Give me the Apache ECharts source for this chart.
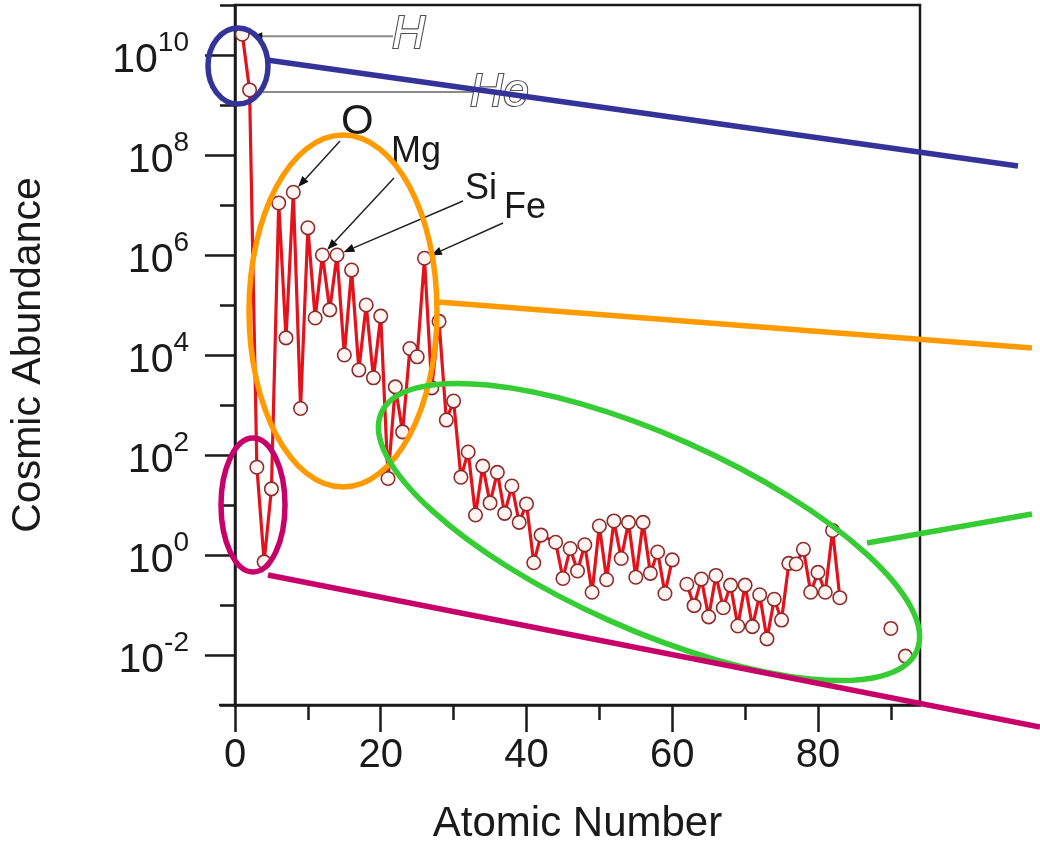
<!DOCTYPE html>
<html>
<head>
<meta charset="utf-8">
<title>Cosmic Abundance of the Elements</title>
<script src="https://cdn.jsdelivr.net/npm/echarts@6/dist/echarts.min.js"></script>
<style>
  html, body { margin: 0; padding: 0; background: #ffffff; }
  #chart { width: 1040px; height: 858px; }
</style>
</head>
<body>
<div id="chart"></div>
<script>
// Atomic numbers of the plotted elements (null abundance = gap in the curve)
const atomicNumber = [
  1, 2, 3, 4, 5, 6, 7, 8, 9, 10,
  11, 12, 13, 14, 15, 16, 17, 18, 19, 20,
  21, 22, 23, 24, 25, 26, 27, 28, 29, 30,
  31, 32, 33, 34, 35, 36, 37, 38, 39, 40,
  41, 42, 44, 45, 46, 47, 48, 49, 50,
  51, 52, 53, 54, 55, 56, 57, 58, 59, 60,
  61, 62, 63, 64, 65, 66, 67, 68, 69, 70,
  71, 72, 73, 74, 75, 76, 77, 78, 79, 80,
  81, 82, 83, 84, 90, 91, 92
];

// Abundance relative to Si = 10^6 atoms
const abundance = [
  2.6e10, 2.0e9, 57, 0.73, 21, 1.1e7, 2.2e4, 1.8e7, 850, 3.5e6,
  5.5e4, 1.0e6, 8.0e4, 1.0e6, 1.0e4, 5.0e5, 5.0e3, 1.0e5, 3.5e3, 6.0e4,
  34, 2.3e3, 290, 1.35e4, 9.2e3, 8.6e5, 2.2e3, 4.7e4, 500, 1.2e3,
  36, 115, 6.3, 60, 11, 45, 6.8, 24, 4.5, 10.5,
  0.7, 2.5, 1.8, 0.34, 1.35, 0.48, 1.6, 0.18, 3.8,
  0.32, 4.8, 0.85, 4.5, 0.36, 4.5, 0.43, 1.15, 0.17, 0.8,
  null, 0.26, 0.097, 0.33, 0.058, 0.39, 0.088, 0.25, 0.038, 0.25,
  0.037, 0.16, 0.021, 0.13, 0.05, 0.68, 0.66, 1.3, 0.18, 0.45,
  0.18, 3.1, 0.14, null, 0.034, null, 0.0095
];

// Axis ticks
const xMajorTicks = [0, 20, 40, 60, 80];
const xMinorTicks = [10, 30, 50, 70, 90];
const yMajorTicks = [1e-2, 1e0, 1e2, 1e4, 1e6, 1e8, 1e10];
const yMinorTicks = [1e-3, 1e-1, 1e1, 1e3, 1e5, 1e7, 1e9, 1e11];

// Labelled elements: symbol and atomic number
const pointerSymbols = ['O', 'Mg', 'Si', 'Fe'];
const pointerZ = [8, 12, 14, 26];

const FONT = '"Liberation Sans", Arial, Helvetica, sans-serif';
const INK = '#1a1a1a';

const chart = echarts.init(document.getElementById('chart'), null, { renderer: 'canvas' });

const seriesData = atomicNumber.map((z, i) => [z, abundance[i] == null ? '-' : abundance[i]]);

function supLabel(v) {
  const e = Math.round(Math.log10(v));
  return '{b|10}{s|' + e + '}';
}

const tickStyle = { color: INK, width: 2.5 };

chart.setOption({
  animation: false,
  backgroundColor: '#ffffff',
  grid: {
    left: 229, right: 120, top: 5, bottom: 153,
    show: true, borderColor: INK, borderWidth: 2.5, backgroundColor: 'transparent'
  },
  xAxis: [{
    type: 'value', min: 0, max: 94,
    axisLine: { show: true, onZero: false, lineStyle: tickStyle },
    axisTick: { show: true, inside: false, length: 27, customValues: xMajorTicks, lineStyle: tickStyle },
    axisLabel: {
      customValues: xMajorTicks, margin: 31, color: INK,
      fontFamily: FONT, fontSize: 40
    },
    splitLine: { show: false },
    name: 'Atomic Number', nameLocation: 'middle', nameGap: 98,
    nameTextStyle: { fontFamily: FONT, fontSize: 42, color: INK }
  }, {
    type: 'value', min: 0, max: 94, position: 'bottom',
    axisLine: { show: false, onZero: false },
    axisTick: { show: true, inside: false, length: 15, customValues: xMinorTicks, lineStyle: tickStyle },
    axisLabel: { show: false },
    splitLine: { show: false }
  }],
  yAxis: [{
    type: 'log', logBase: 10, min: 1e-3, max: 1e11,
    axisLine: { show: true, onZero: false, lineStyle: tickStyle },
    axisTick: { show: true, inside: false, length: 30, customValues: yMajorTicks, lineStyle: tickStyle },
    axisLabel: {
      customValues: yMajorTicks, margin: 46, color: INK,
      formatter: supLabel,
      rich: {
        b: { fontFamily: FONT, fontSize: 41, color: INK, lineHeight: 52, verticalAlign: 'bottom' },
        s: { fontFamily: FONT, fontSize: 28, color: INK, lineHeight: 28, verticalAlign: 'top' }
      }
    },
    splitLine: { show: false },
    name: 'Cosmic Abundance', nameLocation: 'middle', nameGap: 186, nameRotate: 90,
    nameTextStyle: { fontFamily: FONT, fontSize: 41, color: INK }
  }, {
    type: 'log', logBase: 10, min: 1e-3, max: 1e11, position: 'left',
    axisLine: { show: false, onZero: false },
    axisTick: { show: true, inside: false, length: 15, customValues: yMinorTicks, lineStyle: tickStyle },
    axisLabel: { show: false },
    splitLine: { show: false }
  }],
  series: [{
    type: 'line',
    xAxisIndex: 0, yAxisIndex: 0,
    data: seriesData,
    connectNulls: false,
    lineStyle: { color: '#e3121b', width: 3.2 },
    symbol: 'circle', symbolSize: 13.5, showSymbol: true, showAllSymbol: true,
    itemStyle: { color: '#fff4f2', borderColor: '#8e2b2b', borderWidth: 1.6 },
    z: 3
  }]
});

// ---- callouts and highlight overlay ----
function toPx(z, v) {
  return chart.convertToPixel({ xAxisIndex: 0, yAxisIndex: 0 }, [z, v]);
}
function valueAt(z) {
  return abundance[atomicNumber.indexOf(z)];
}

function arrow(from, to, color, width, head, stopShort) {
  const dx = to[0] - from[0], dy = to[1] - from[1];
  const len = Math.sqrt(dx * dx + dy * dy);
  const ux = dx / len, uy = dy / len;
  const tip = [to[0] - ux * stopShort, to[1] - uy * stopShort];
  const base = [tip[0] - ux * head, tip[1] - uy * head];
  const nx = -uy * head * 0.38, ny = ux * head * 0.38;
  return [
    { type: 'line', z: 20, shape: { x1: from[0], y1: from[1], x2: base[0], y2: base[1] },
      style: { stroke: color, lineWidth: width } },
    { type: 'polygon', z: 20, shape: { points: [tip, [base[0] + nx, base[1] + ny], [base[0] - nx, base[1] - ny]] },
      style: { fill: '#111' } }
  ];
}

function label(text, x, y, size, extra) {
  return {
    type: 'text', z: 21,
    style: Object.assign({
      text: text, x: x, y: y,
      fontFamily: FONT, fontSize: size, fill: INK,
      textAlign: 'left', textVerticalAlign: 'bottom', align: 'left', verticalAlign: 'bottom'
    }, extra || {})
  };
}

const g = [];

// Short run of the x axis line past the left edge of the frame
const origin = toPx(0, 1e-3);
g.push({ type: 'line', z: 5, shape: { x1: origin[0] - 16, y1: origin[1], x2: origin[0], y2: origin[1] },
  style: { stroke: INK, lineWidth: 2.5 } });

// H and He leaders (grey horizontal lines, outlined italic symbols)
const hPt = toPx(1, valueAt(1));
const hePt = toPx(2, valueAt(2));
g.push({ type: 'line', z: 20, shape: { x1: hPt[0] + 14, y1: hPt[1] + 2, x2: 393, y2: hPt[1] + 2 },
  style: { stroke: '#8a8a8a', lineWidth: 2 } });
g.push({ type: 'polygon', z: 20, shape: { points: [[hPt[0] + 10, hPt[1] + 2], [hPt[0] + 20, hPt[1] - 2], [hPt[0] + 20, hPt[1] + 6]] },
  style: { fill: '#111' } });
g.push({ type: 'line', z: 20, shape: { x1: hePt[0] + 12, y1: hePt[1] + 2, x2: 478, y2: hePt[1] + 2 },
  style: { stroke: '#8a8a8a', lineWidth: 2 } });
const outline = { fill: '#ffffff', stroke: '#505050', lineWidth: 2.2, fontStyle: 'italic' };
g.push(label('H', 392, 58, 46, outline));
g.push(label('He', 470, 116, 46, outline));

// Arrowed element callouts
const calloutText = [
  { x: 341, y: 143, size: 42, from: [340, 141] },
  { x: 391, y: 170, size: 36, from: [394, 178] },
  { x: 465, y: 207, size: 36, from: [463, 201] },
  { x: 504, y: 226, size: 36, from: [503, 223] }
];
pointerSymbols.forEach((sym, i) => {
  const c = calloutText[i];
  const p = toPx(pointerZ[i], valueAt(pointerZ[i]));
  g.push(label(sym, c.x, c.y, c.size));
  arrow(c.from, p, '#222', 1.5, 11, 7).forEach(e => g.push(e));
});

// Highlight ellipses with connector lines
const ringW = 5.5;
const BLUE = '#343399', ORANGE = '#ff9a00', GREEN = '#36cc33', MAGENTA = '#c8006a';
g.push({ type: 'ellipse', z: 30, shape: { cx: 238, cy: 66, rx: 30, ry: 38 },
  style: { fill: 'none', stroke: BLUE, lineWidth: ringW } });
g.push({ type: 'line', z: 30, shape: { x1: 267, y1: 60, x2: 1018, y2: 166 },
  style: { stroke: BLUE, lineWidth: ringW } });

g.push({ type: 'ellipse', z: 30, shape: { cx: 343, cy: 311, rx: 94, ry: 176 },
  style: { fill: 'none', stroke: ORANGE, lineWidth: ringW } });
g.push({ type: 'line', z: 30, shape: { x1: 438, y1: 302, x2: 1032, y2: 348 },
  style: { stroke: ORANGE, lineWidth: ringW } });

g.push({ type: 'ellipse', z: 30, x: 649, y: 532, rotation: -24 * Math.PI / 180,
  shape: { cx: 0, cy: 0, rx: 293, ry: 97 },
  style: { fill: 'none', stroke: GREEN, lineWidth: ringW } });
g.push({ type: 'line', z: 30, shape: { x1: 867, y1: 543, x2: 1032, y2: 514 },
  style: { stroke: GREEN, lineWidth: ringW } });

g.push({ type: 'ellipse', z: 30, shape: { cx: 253, cy: 505, rx: 32, ry: 67 },
  style: { fill: 'none', stroke: MAGENTA, lineWidth: ringW } });
g.push({ type: 'line', z: 30, shape: { x1: 268, y1: 575, x2: 1040, y2: 727 },
  style: { stroke: MAGENTA, lineWidth: ringW } });

chart.setOption({ graphic: g });
</script>
</body>
</html>
